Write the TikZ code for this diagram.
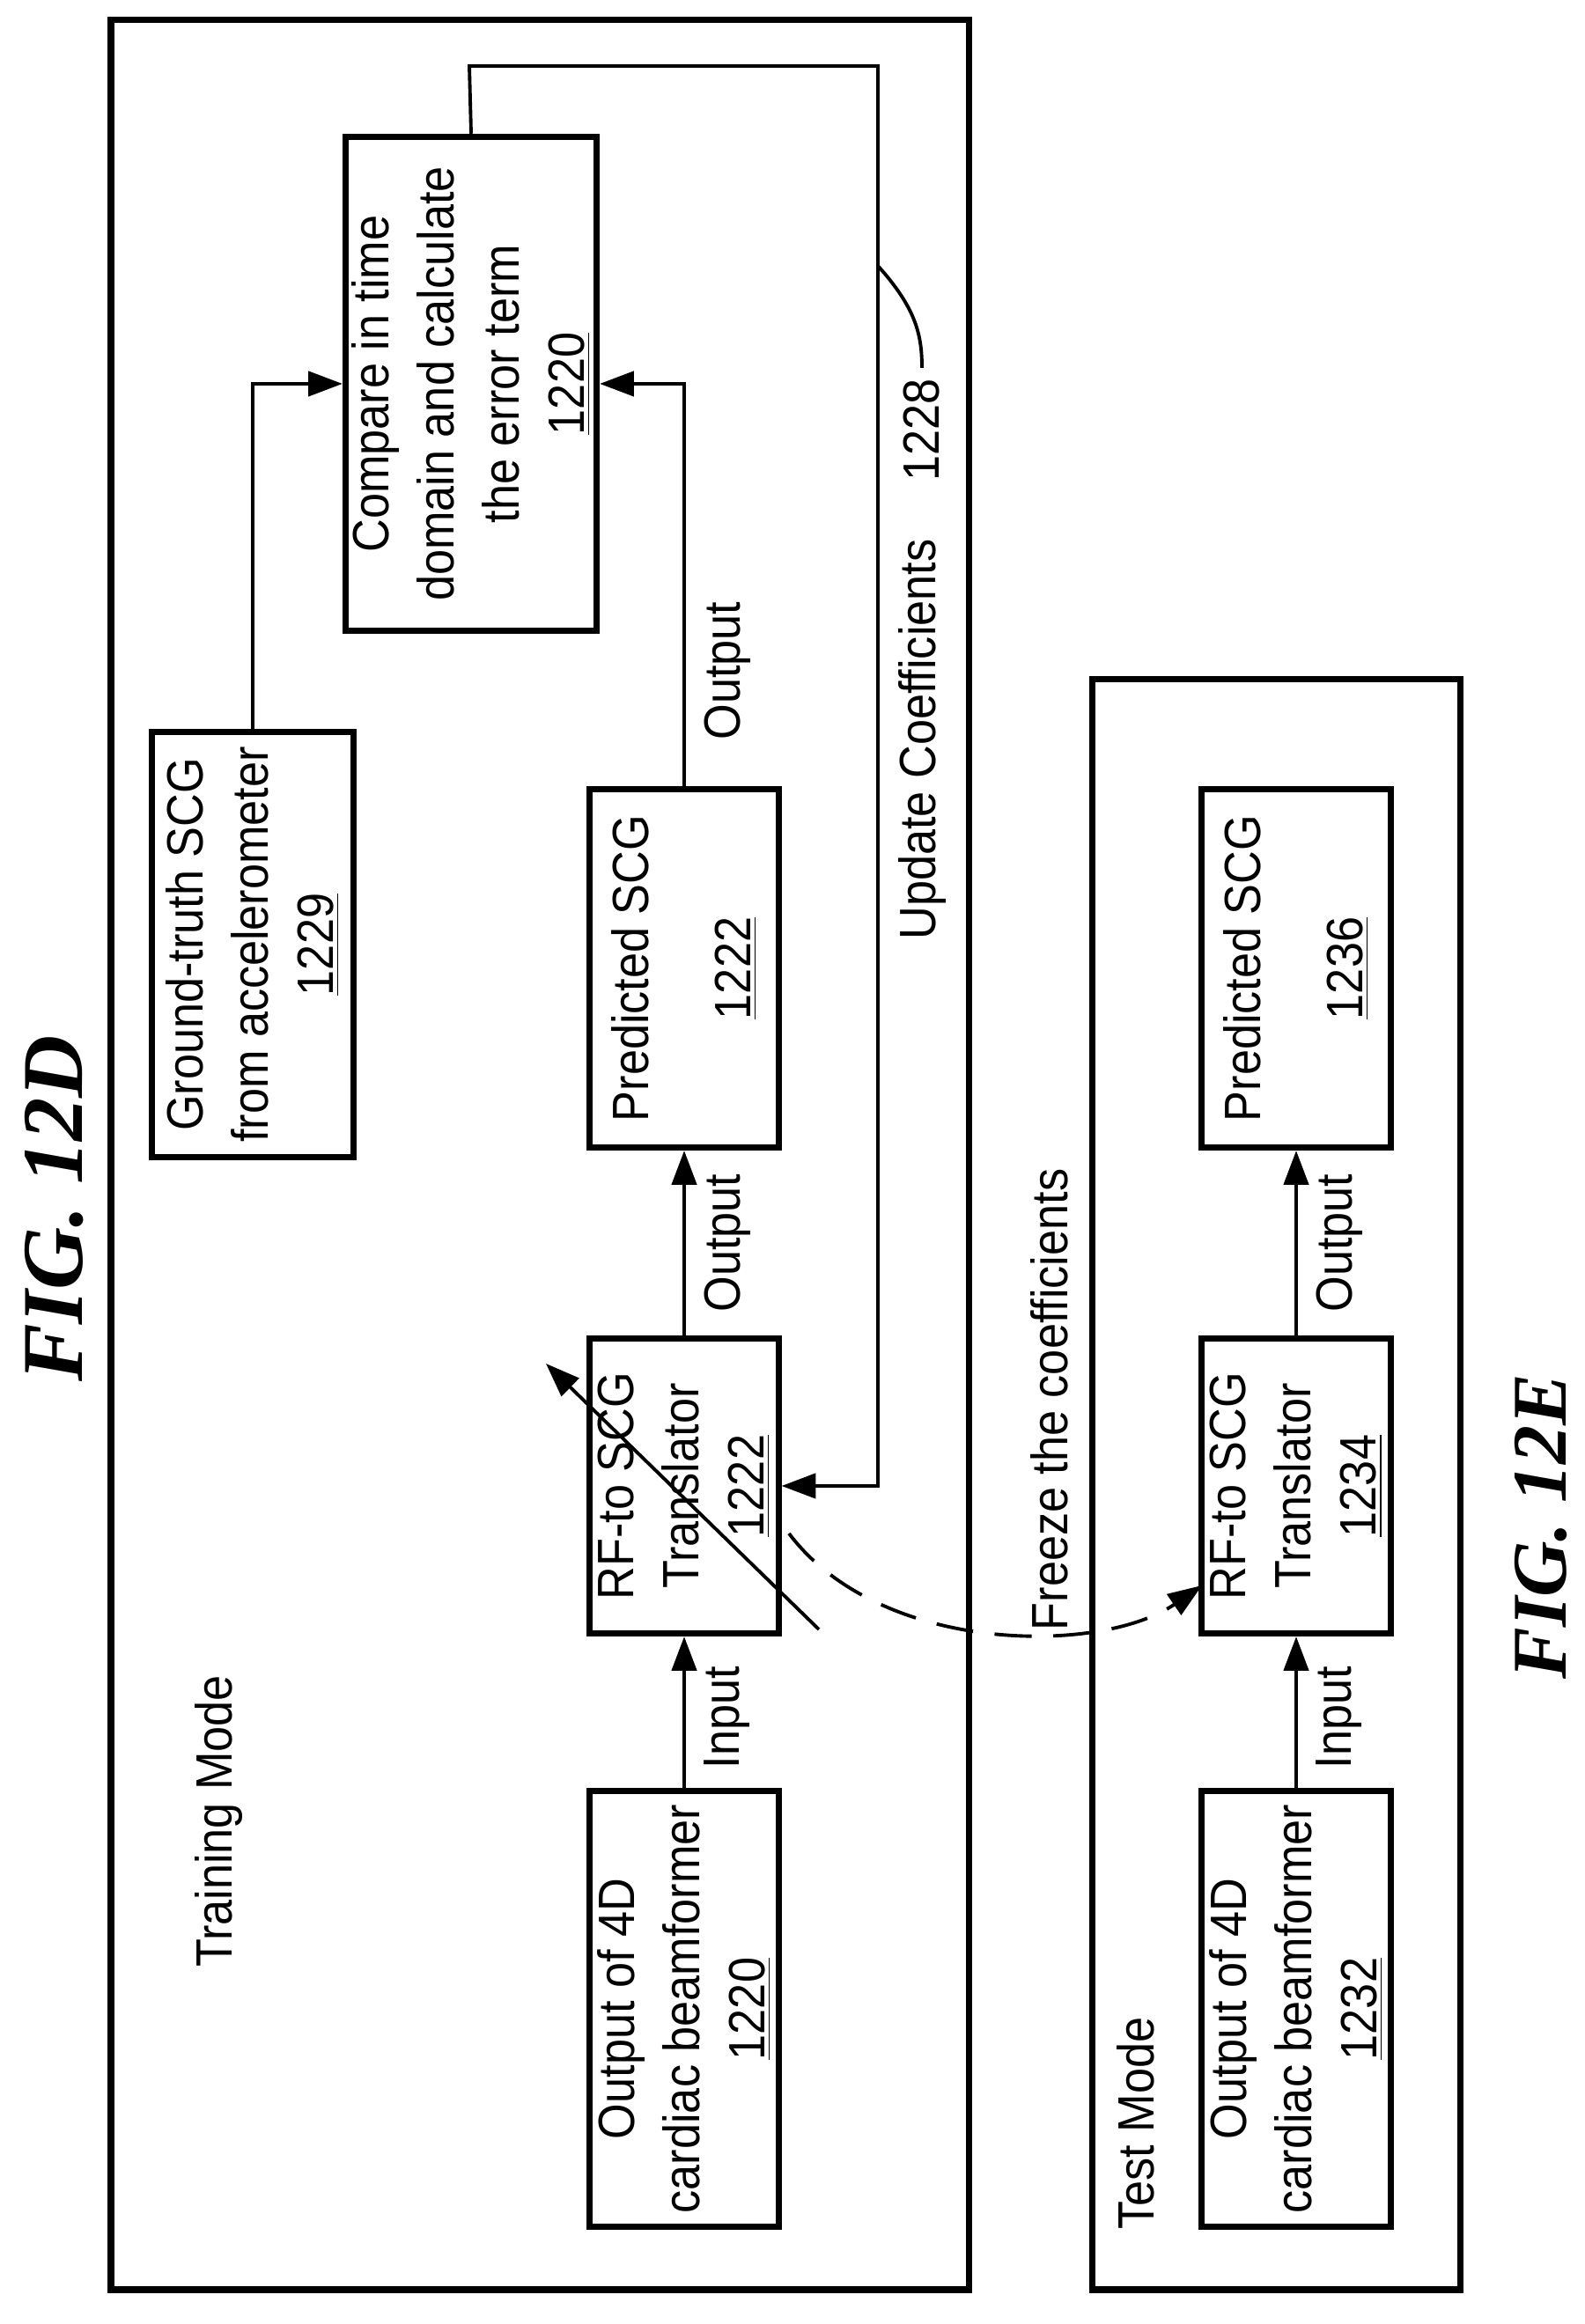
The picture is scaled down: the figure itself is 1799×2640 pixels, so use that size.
\documentclass[tikz,border=0pt]{standalone}
\usepackage{fontspec}
\setmainfont[FakeStretch=0.9]{Liberation Sans}
\newfontfamily\figfont{Liberation Serif}
\usetikzlibrary{arrows.meta, positioning, calc}

\tikzset{
  blk/.style={draw, line width=2pt, rotate=90, minimum height=2.14cm, align=center, inner sep=2pt, font=\fontsize{16.5}{21}\selectfont},
  lbl/.style={rotate=90, font=\fontsize{16.5}{20}\selectfont},
  frame/.style={draw, line width=2pt},
  arr/.style={-{Triangle[length=11pt,width=8pt]}, line width=1.1pt}
}

\begin{document}
\begin{tikzpicture}[x=0.01cm, y=0.01cm]
  \useasboundingbox (0,0) rectangle (1799,2640);
  % frames
  \draw[frame] (126,39) rectangle (1100,2617);
  \draw[frame] (1240,39) rectangle (1658,1868);
  \node[rotate=90, font=\figfont\bfseries\itshape\fontsize{28}{30}\selectfont] (figd) at (62,1267) {FIG. 12D};
  \node[rotate=90, font=\figfont\bfseries\itshape\fontsize{25}{30}\selectfont] (fige) at (1750,906) {FIG. 12E};
  \node[lbl] (train) at (248,571) {Training Mode};
  \node[lbl] (test) at (1290,228) {Test Mode};

  % training blocks
  \node[blk, minimum width=4.94cm] (beam) at (777,358) {Output of 4D\\cardiac beamformer\\\underline{1220}};
  \node[blk, minimum width=3.35cm] (trans) at (777,952) {RF-to SCG\\Translator\\\underline{1222}};
  \node[blk, minimum width=4.07cm] (pred) at (777,1540) {Predicted SCG\\[12pt]\underline{1222}};
  \node[blk, minimum width=4.83cm, minimum height=2.29cm] (gt) at (287,1567) {Ground-truth SCG\\from accelerometer\\\underline{1229}};
  \node[blk, minimum width=5.61cm, minimum height=2.8cm] (cmp) at (535,2204) {Compare in time\\domain and calculate\\the error term\\\underline{1220}};

  % test blocks
  \node[blk, minimum width=4.94cm] (tbeam) at (1472,358) {Output of 4D\\cardiac beamformer\\\underline{1232}};
  \node[blk, minimum width=3.35cm] (ttrans) at (1472,952) {RF-to SCG\\Translator\\\underline{1234}};
  \node[blk, minimum width=4.07cm] (tpred) at (1472,1540) {Predicted SCG\\[12pt]\underline{1236}};

  % connectors
  \draw[arr] (beam.east) -- (trans.west);
  \draw[arr] (trans.east) -- (pred.west);
  \draw[arr] (pred.east) |- (cmp.south);
  \draw[arr] (gt.east) |- (cmp.north);
  \draw[arr] (tbeam.east) -- (ttrans.west);
  \draw[arr] (ttrans.east) -- (tpred.west);
  \coordinate (up1) at (533,2565);
  \coordinate (up2) at (997,2565);
  \draw[arr] (cmp.east) -- (up1) -- (up2) |- (trans.south);

  \node[lbl] (in1) at (826,689) {Input};
  \node[lbl] (out1) at (826,1228) {Output};
  \node[lbl] (out2) at (826,1878) {Output};
  \node[lbl] (in2) at (1521,689) {Input};
  \node[lbl] (out3) at (1521,1228) {Output};
  \node[lbl] (upd) at (1047,1800) {Update Coefficients};
  \node[lbl, anchor=east] (ref) at (1047,2222) {1228};
  \coordinate (lead) at (997,2338);
  \draw[line width=1.1pt] (lead) .. controls (1040,2290) and (1047,2260) .. (ref.east);

  % adjustable translator
  \coordinate (adjA) at (930,789);
  \coordinate (adjB) at (620,1091);
  \draw[arr] (adjA) -- (adjB);

  % freeze
  \coordinate (frz) at (896,898);
  \coordinate (frzend) at (1365,839);
  \draw[arr, dashed, dash pattern=on 12pt off 7pt] (frz) .. controls (1000,760) and (1250,760) .. (frzend);
  \node[lbl] (freeze) at (1192,1050) {Freeze the coefficients};
\end{tikzpicture}
\end{document}
